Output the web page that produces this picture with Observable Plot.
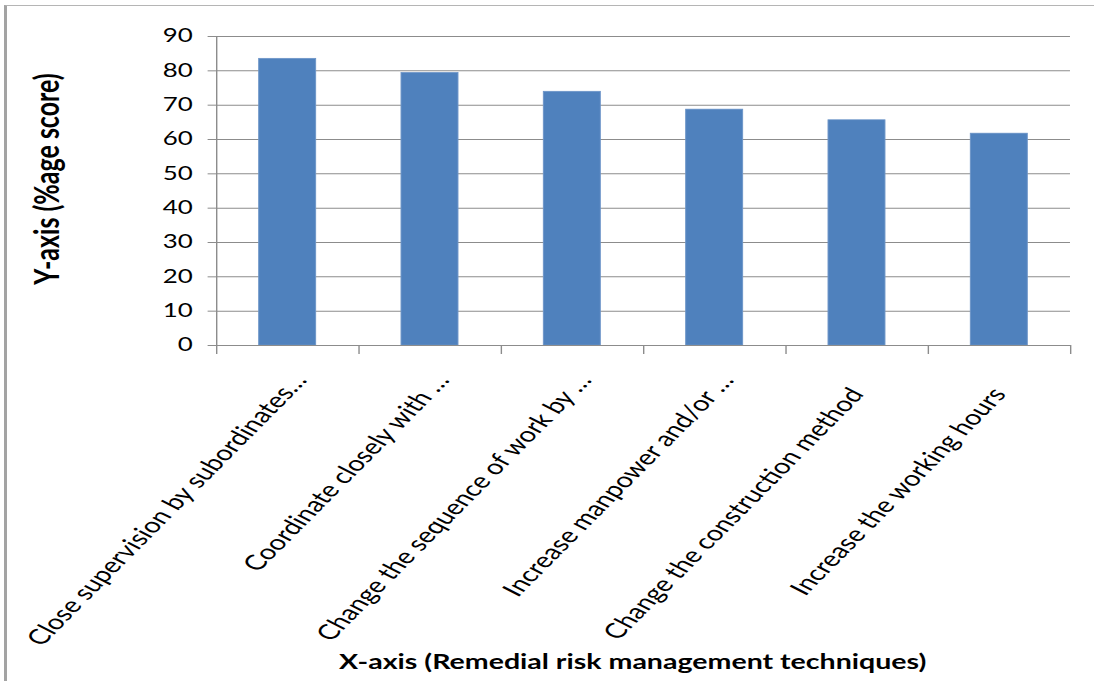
<!DOCTYPE html>
<html>
<head>
<meta charset="utf-8">
<script src="https://cdn.jsdelivr.net/npm/d3@7"></script>
<script src="https://cdn.jsdelivr.net/npm/@observablehq/plot@0.6"></script>
<style>
  html, body { margin: 0; padding: 0; background: #fff; }
  #wrap { position: relative; width: 1094px; height: 681px; overflow: hidden; background: #fff; }
  #wrap svg { position: absolute; left: 0; top: 0; transform-origin: 0 0; }
  #edge { position: absolute; left: 4px; top: 5px; right: 0; bottom: 0;
          border-left: 3px solid #a3a3a3; border-top: 1px solid #b5b5b5; pointer-events: none; }
</style>
</head>
<body>
<div id="wrap"><div id="edge"></div></div>
<script>
// Remedial risk management techniques and their percentage scores
const categories = [
  "Close supervision by subordinates…",
  "Coordinate closely with …",
  "Change the sequence of work by …",
  "Increase manpower and/or …",
  "Change the construction method",
  "Increase the working hours"
];
const scores = [83.5, 79.4, 73.9, 68.7, 65.6, 61.7];
const yTicks = [0, 10, 20, 30, 40, 50, 60, 70, 80, 90];
const xTitle = "X-axis (Remedial risk management techniques)";
const yTitle = "Y-axis (%age score)";

const rows = categories.map((label, i) => ({i, label, value: scores[i]}));
const slots = d3.range(categories.length + 1); // category boundaries for tick marks

// The chart is laid out on a narrower canvas and widened horizontally
const stretch = 1.4;
const W = 1094 / stretch;
const H = 681;
const gray = "#8c8c8c";
const font = "Lato, 'Open Sans', sans-serif";

const shortened = d => d.label.endsWith("…");

const chart = Plot.plot({
  width: W,
  height: H,
  marginLeft: 216 / stretch,
  marginRight: W - 1070 / stretch,
  marginTop: 36,
  marginBottom: H - 345,
  style: {fontFamily: font, color: "#000", background: "transparent"},
  x: {type: "linear", domain: [0, categories.length]},
  y: {domain: [0, 90]},
  marks: [
    Plot.gridY(yTicks, {stroke: gray, strokeOpacity: 1, strokeWidth: 1}),
    Plot.axisY({ticks: yTicks, tickSize: 6, tickPadding: 11, fontSize: 18.5,
                stroke: gray, fill: "#000", label: null}),
    Plot.axisX({ticks: slots, tickSize: 9, tickFormat: () => "", stroke: gray, label: null}),
    Plot.rectY(rows, {
      x1: d => d.i + 0.3, x2: d => d.i + 0.7, y1: 0, y2: "value",
      fill: "#4f81bd", stroke: "#6d95c8", strokeWidth: 0.7
    }),
    Plot.ruleY([0], {stroke: gray, strokeWidth: 1}),
    Plot.ruleX([0], {stroke: gray, strokeWidth: 1}),
    // category names, rotated under each bar
    Plot.text(rows.filter(shortened), {
      x: d => d.i + 0.5, frameAnchor: "bottom", text: "label",
      rotate: -54.5, textAnchor: "end", lineAnchor: "middle",
      dx: 9, dy: 31, fontSize: 21, fill: "#000"
    }),
    Plot.text(rows.filter(d => !shortened(d)), {
      x: d => d.i + 0.5, frameAnchor: "bottom", text: "label",
      rotate: -54.5, textAnchor: "end", lineAnchor: "middle",
      dx: 0, dy: 45, fontSize: 21, fill: "#000"
    }),
    // axis titles
    Plot.text([yTitle], {
      text: d => d, frameAnchor: "left", rotate: -90,
      textAnchor: "middle", lineAnchor: "middle",
      dx: -(216 - 47) / stretch, dy: -12, fontSize: 25, fontWeight: "bold", fill: "#000"
    }),
    Plot.text([xTitle], {
      text: d => d, frameAnchor: "bottom", textAnchor: "middle", lineAnchor: "middle",
      dx: (632 - 643) / stretch, dy: 317, fontSize: 20.4, fontWeight: "bold", fill: "#000"
    })
  ]
});

chart.style.transform = `scaleX(${stretch})`;
document.getElementById("wrap").insertBefore(chart, document.getElementById("edge"));
</script>
</body>
</html>
